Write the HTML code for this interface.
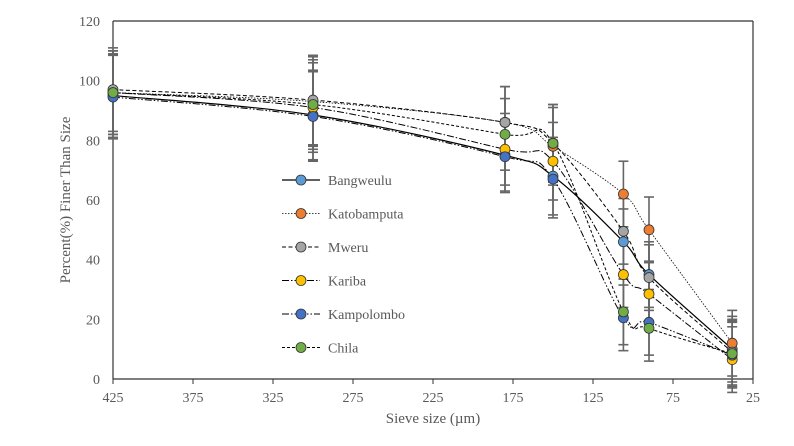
<!DOCTYPE html>
<html><head><meta charset="utf-8"><style>
body{margin:0;background:#fff}
svg{display:block;font-family:"Liberation Serif",serif}
</style></head><body>
<svg id="c" width="794" height="446"></svg>
<script>
const sizes=[425,300,180,150,106,90,38];
const names=["Bangweulu","Katobamputa","Mweru","Kariba","Kampolombo","Chila"];
const bang=[95,88.5,75,68,46,35,10];
const kato=[96,93,86,78,62,50,12];
const mweru=[97,93.5,86,79,49.5,34,9];
const kariba=[96,91,77,73,35,28.5,6.5];
const kamp=[94.5,88,74.5,67,20.5,19,8];
const chila=[96,92,82,79,22.5,17,8.5];
const errs=[14,15,12,13,11,11,11];
const xTicks=[425,375,325,275,225,175,125,75,25];
const yTicks=[0,20,40,60,80,100,120];
const series=[bang,kato,mweru,kariba,kamp,chila];
const colors=["#5b9bd5","#ed7d31","#a5a5a5","#ffc000","#4472c4","#70ad47"];
const dashes=["","1.5,1.5","4,2.5","7,2,1.5,2","7,2,1.5,2,1.5,2","3,2"];
const widths=[1.2,0.8,1,1,1,1];
const L=113,R=753,T=21,B=379;
const X=v=>L+(425-v)/400*(R-L);
const Y=v=>B-v/120*(B-T);
const svg=document.getElementById('c');
const NS="http://www.w3.org/2000/svg";
function mk(t,a,p){const e=document.createElementNS(NS,t);for(const k in a)e.setAttribute(k,a[k]);(p||svg).appendChild(e);return e;}
// axes
let ax=mk('line',{x1:L,y1:B,x2:R,y2:B,stroke:'#333','stroke-width':1.2});


let ay=mk('line',{x1:L,y1:T,x2:L,y2:B,stroke:'#333','stroke-width':1.2});


let rb=mk('line',{x1:R,y1:T,x2:R,y2:B,stroke:'#333','stroke-width':1.2});


let tb=mk('line',{x1:L,y1:T,x2:R,y2:T,stroke:'#333','stroke-width':1.2});


xTicks.forEach(v=>{
 mk('line',{x1:X(v),y1:B,x2:X(v),y2:B+5,stroke:'#333'});
 const t=mk('text',{x:X(v),y:B+23,'text-anchor':'middle','font-size':14,fill:'#595959'});t.textContent=v;
 
 
});
yTicks.forEach(v=>{
 const t=mk('text',{x:L-13,y:Y(v)+5,'text-anchor':'end','font-size':14,fill:'#595959'});t.textContent=v;
 
 
});
let xt=mk('text',{x:433,y:423,'text-anchor':'middle','font-size':15,fill:'#595959'});xt.textContent="Sieve size (µm)";


let yt=mk('text',{x:0,y:0,'text-anchor':'middle','font-size':15,fill:'#595959',transform:`translate(70,${(T+B)/2}) rotate(-90)`});yt.textContent="Percent(%) Finer Than Size";


// error bars
series.forEach((s,si)=>{
 s.forEach((v,i)=>{
  const x=X(sizes[i]);const g=mk('g',{stroke:'#666','stroke-width':1.6});
  
  
  mk('line',{x1:x,y1:Y(v-errs[i]),x2:x,y2:Y(v+errs[i])},g);
  mk('line',{x1:x-5,y1:Y(v-errs[i]),x2:x+5,y2:Y(v-errs[i])},g);
  mk('line',{x1:x-5,y1:Y(v+errs[i]),x2:x+5,y2:Y(v+errs[i])},g);
 });
});
function smooth(pts){let d=`M${pts[0][0]},${pts[0][1]}`;
 for(let i=0;i<pts.length-1;i++){const p0=pts[i-1]||pts[i],p1=pts[i],p2=pts[i+1],p3=pts[i+2]||p2;
  const c1=[p1[0]+(p2[0]-p0[0])/6,p1[1]+(p2[1]-p0[1])/6],c2=[p2[0]-(p3[0]-p1[0])/6,p2[1]-(p3[1]-p1[1])/6];
  d+=` C${c1[0]},${c1[1]} ${c2[0]},${c2[1]} ${p2[0]},${p2[1]}`;}
 return d;}
series.forEach((s,si)=>{
 const pts=s.map((v,i)=>[X(sizes[i]),Y(v)]);
 const p=mk('path',{d:smooth(pts),fill:'none',stroke:'#000','stroke-width':widths[si],'stroke-dasharray':dashes[si]});
 
 
});
series.forEach((s,si)=>{
 s.forEach((v,i)=>{
  const c=mk('circle',{cx:X(sizes[i]),cy:Y(v),r:5,fill:colors[si],stroke:'#333','stroke-width':0.8});
  
  
 });
});
// legend
names.forEach((n,i)=>{
 const y=180+i*33.5;const g=mk('g',{});
 
 
 mk('line',{x1:282,y1:y,x2:320,y2:y,stroke:'#000','stroke-width':widths[i],'stroke-dasharray':dashes[i]},g);
 mk('circle',{cx:301,cy:y,r:5,fill:colors[i],stroke:'#333','stroke-width':0.8},g);
 const t=mk('text',{x:328,y:y+5,'font-size':14,fill:'#595959'},g);t.textContent=n;
});
</script>
</body></html>
